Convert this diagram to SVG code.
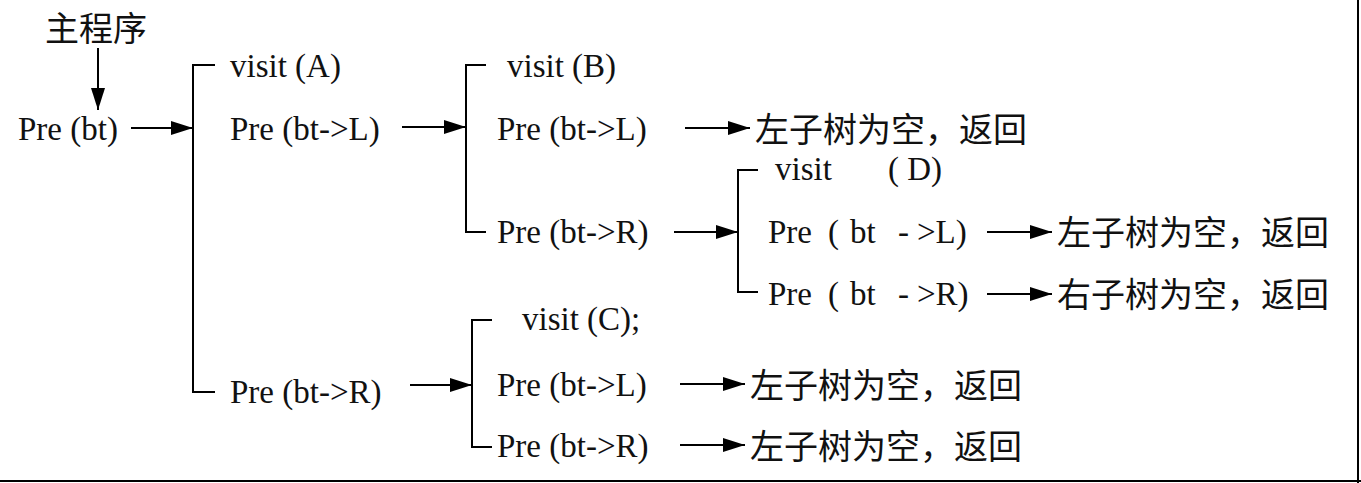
<svg xmlns="http://www.w3.org/2000/svg" width="1361" height="483" viewBox="0 0 1361 483">
<defs>
<marker id="ah" markerUnits="userSpaceOnUse" markerWidth="24" markerHeight="16" refX="22" refY="7" orient="auto">
<path d="M0,0 L22,7 L0,14 Z" fill="#000"/>
</marker>
<style>
.t{font-family:"Liberation Serif","Times New Roman",serif;font-size:33px;fill:#111;white-space:pre}
.c{font-family:"Noto Sans CJK SC","Noto Sans CJK JP",sans-serif;font-size:34px;fill:#111}
.ln{stroke:#000;stroke-width:2;fill:none}
.ar{stroke:#000;stroke-width:2;fill:none;marker-end:url(#ah)}
</style>
</defs>
<rect width="1361" height="483" fill="#fff"/>
<g id="frame">
<line class="ln" x1="1358" y1="0" x2="1358" y2="483" stroke-width="3"/>
<line class="ln" x1="0" y1="481" x2="1361" y2="481" stroke-width="3"/>
</g>
<g id="main"><text class="c" x="45" y="41" font-size="32">主程序</text></g>
<g id="pre-bt"><text class="t" x="18" y="140">Pre (bt)</text></g>
<g id="visitA"><text class="t" x="230" y="77">visit (A)</text></g>
<g id="preA-L"><text class="t" x="230" y="140">Pre (bt-&gt;L)</text></g>
<g id="preA-R"><text class="t" x="230" y="403">Pre (bt-&gt;R)</text></g>
<g id="visitB"><text class="t" x="507" y="77">visit (B)</text></g>
<g id="preB-L"><text class="t" x="497" y="140">Pre (bt-&gt;L)</text></g>
<g id="emptyB-L"><text class="c" x="755" y="142">左子树为空，返回</text></g>
<g id="preB-R"><text class="t" x="497" y="243">Pre (bt-&gt;R)</text></g>
<g id="visitD"><text class="t" x="775" y="180">visit<tspan x="888">( D)</tspan></text></g>
<g id="preD-L"><text class="t" x="768" y="243">Pre<tspan x="828">(</tspan><tspan x="850">bt</tspan><tspan x="898">-</tspan><tspan x="917">&gt;L)</tspan></text></g>
<g id="emptyD-L"><text class="c" x="1057" y="245">左子树为空，返回</text></g>
<g id="preD-R"><text class="t" x="768" y="305">Pre<tspan x="828">(</tspan><tspan x="850">bt</tspan><tspan x="898">-</tspan><tspan x="917">&gt;R)</tspan></text></g>
<g id="emptyD-R"><text class="c" x="1057" y="307">右子树为空，返回</text></g>
<g id="visitC"><text class="t" x="522" y="330">visit (C);</text></g>
<g id="preC-L"><text class="t" x="497" y="396">Pre (bt-&gt;L)</text></g>
<g id="emptyC-L"><text class="c" x="750" y="398">左子树为空，返回</text></g>
<g id="preC-R"><text class="t" x="497" y="457">Pre (bt-&gt;R)</text></g>
<g id="emptyC-R"><text class="c" x="750" y="459">左子树为空，返回</text></g>
<g id="connectors">
<line class="ar" x1="98" y1="48" x2="98" y2="110"/>
<line class="ar" x1="131" y1="128" x2="193" y2="128"/>
<polyline class="ln" points="215,65 193,65 193,392 215,392"/>
<line class="ar" x1="402" y1="127" x2="466" y2="127"/>
<polyline class="ln" points="486,65 466,65 466,232 486,232"/>
<line class="ar" x1="685" y1="128" x2="750" y2="128"/>
<line class="ar" x1="674" y1="232" x2="738" y2="232"/>
<polyline class="ln" points="758,170 738,170 738,292 758,292"/>
<line class="ar" x1="987" y1="232" x2="1052" y2="232"/>
<line class="ar" x1="987" y1="294" x2="1052" y2="294"/>
<line class="ar" x1="410" y1="385" x2="472" y2="385"/>
<polyline class="ln" points="492,320 472,320 472,447 492,447"/>
<line class="ar" x1="680" y1="384" x2="745" y2="384"/>
<line class="ar" x1="680" y1="445" x2="745" y2="445"/>
</g>
</svg>
